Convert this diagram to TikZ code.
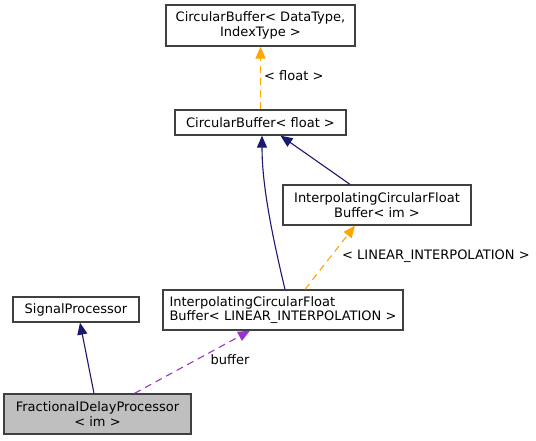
\documentclass[tikz,border=0pt]{standalone}
\usepackage{fontspec}
\setmainfont{DejaVu Sans}
\usetikzlibrary{arrows.meta,positioning,calc}

\definecolor{navyline}{HTML}{191970}
\definecolor{orangeline}{HTML}{FFA500}
\definecolor{purpleline}{HTML}{9A32CD}
\definecolor{boxline}{HTML}{404040}
\definecolor{boxfill}{HTML}{BFBFBF}

\begin{document}
\begin{tikzpicture}[x=1pt,y=-1pt]
	\tikzset{
	  basic/.style  = {draw=boxline, line width=1.3pt, rectangle, inner sep=0pt,
	                   font=\fontsize{13}{14.7}\selectfont},
	  cls/.style    = {basic, align=center},
	  clsleft/.style = {basic, align=left},
	  current/.style = {cls, fill=boxfill},
	  inherit/.style = {navyline, line width=1.1pt, -{Triangle[length=12pt,width=10pt]}},
	  tmpl/.style   = {orangeline, line width=1.1pt, dash pattern=on 7pt off 5pt,
	                   -{Triangle[length=12pt,width=10pt]}},
	  usage/.style  = {purpleline, line width=1.1pt, dash pattern=on 7pt off 5pt,
	                   -{Triangle[length=12pt,width=10pt]}},
	  lbl/.style    = {font=\fontsize{13}{14}\selectfont, inner sep=0pt}
	}
	\useasboundingbox (0,0) rectangle (536,440);

	% classes
	\node[cls, minimum width=189pt, minimum height=41pt] (cb) at (260.5,25.5)
	  {CircularBuffer< DataType,\\IndexType >};
	\node[cls, minimum width=171pt, minimum height=25pt] (cbf) at (260.5,122.5)
	  {CircularBuffer< float >};
	\node[cls, minimum width=188pt, minimum height=40pt] (icfbim) at (377,205)
	  {InterpolatingCircularFloat\\Buffer< im >};
	\node[clsleft, minimum width=240pt, minimum height=40pt] (icfbli) at (283,310)
	  {InterpolatingCircularFloat\\Buffer< LINEAR\_INTERPOLATION >};
	\node[cls, minimum width=126pt, minimum height=25pt] (sp) at (76,309.5)
	  {SignalProcessor};
	\node[current, minimum width=187pt, minimum height=40pt] (fdp) at (97.5,414)
	  {FractionalDelayProcessor\\< im >};

	% relations
	\draw[tmpl] (cbf.north) -- (cb.south);
	\node[lbl, anchor=west] (lfloat) at (264,76) {< float >};
	\draw[inherit] ([xshift=-27pt]icfbim.north) -- ([xshift=20pt]cbf.south);
	\draw[inherit] ([xshift=2pt]icfbli.north) .. controls (272,235) and (262,185) .. ([xshift=1.5pt]cbf.south);
	\draw[tmpl] ([xshift=22pt]icfbli.north) -- ([xshift=-22pt]icfbim.south);
	\node[lbl, anchor=west] (llin) at (342,256) {< LINEAR\_INTERPOLATION >};
	\draw[inherit] ([xshift=-3.5pt]fdp.north) -- ([xshift=4pt]sp.south);
	\draw[usage] ([xshift=37pt]fdp.north) -- ([xshift=-33pt]icfbli.south);
	\node[lbl] (lbuf) at (230,360) {buffer};
\end{tikzpicture}
\end{document}
